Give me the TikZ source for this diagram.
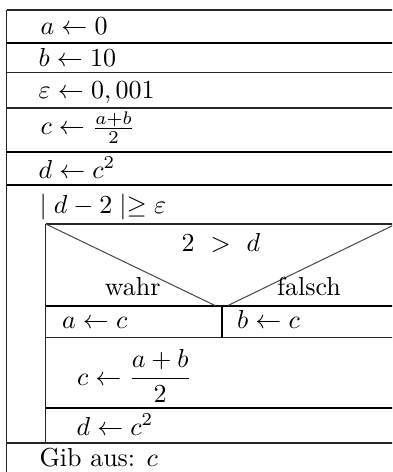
\documentclass[tikz,border=0pt]{standalone}
\usepackage{amsmath}
\begin{document}
\begin{tikzpicture}[x=0.3846pt,y=-0.3846pt,
  txt/.style={anchor=base west,inner sep=0pt,outer sep=0pt},
  ctxt/.style={anchor=base,inner sep=0pt,outer sep=0pt},
  thinl/.style={line width=0.45pt,draw=black!85},
  thickl/.style={line width=0.75pt,draw=black},
  diag/.style={line width=0.4pt,draw=black!70}]
\useasboundingbox (0,0) rectangle (392,472);
\fill[white] (0,0) rectangle (392,472);
\clip (0,0) rectangle (392,472);
% horizontal lines
\draw[thinl]  (6.7,10) -- (400,10);
\draw[thickl] (6.7,42.7) -- (400,42.7);
\draw[thinl]  (6.7,72.7) -- (400,72.7);
\draw[thinl]  (6.7,108) -- (400,108);
\draw[thickl] (6.7,152) -- (400,152);
\draw[thickl] (6.7,185) -- (400,185);
\draw[thinl]  (45.7,224) -- (400,224);
\draw[thickl] (45.7,306) -- (400,306);
\draw[thinl]  (45.7,337.7) -- (400,337.7);
\draw[thickl] (45.7,408.3) -- (400,408.3);
\draw[thinl]  (6.7,443) -- (400,443);
% vertical lines
\draw[thinl]  (6.7,10) -- (6.7,480);
\draw[thinl]  (45.7,224) -- (45.7,443);
\draw[thickl] (221.7,306) -- (221.7,337.7);
% decision diagonals
\draw[diag] (45.7,224) -- (215,305.5);
\draw[diag] (228,305.5) -- (396,224);
% texts
\node[txt] (n1) at (40.5,35) {$a\leftarrow 0$};
\node[txt] (n2) at (38.5,66.7) {$b\leftarrow 10$};
\node[txt] (n3) at (38.5,98.3) {$\varepsilon\leftarrow 0,001$};
\node[txt] (n4) at (40.5,135) {$c\leftarrow \frac{a+b}{2}$};
\node[txt] (n5) at (38.5,178.3) {$d\leftarrow c^2$};
\node[txt] (n6) at (39.5,213.3) {$\mid d-2\mid\geq\varepsilon$};
\node[ctxt] (n7) at (221,251.7) {$2\ >\ d$};
\node[ctxt] (n8) at (132.7,295) {wahr};
\node[ctxt] (n9) at (309,295) {falsch};
\node[txt] (n10) at (62,328.3) {$a\leftarrow c$};
\node[txt] (n11) at (237,328.3) {$b\leftarrow c$};
\node[txt] (n12) at (77,385) {$c\leftarrow \dfrac{a+b}{2}$};
\node[txt] (n13) at (76.5,435) {$d\leftarrow c^2$};
\node[txt] (n14) at (39.5,466.7) {Gib aus: $c$};
\end{tikzpicture}
\end{document}
